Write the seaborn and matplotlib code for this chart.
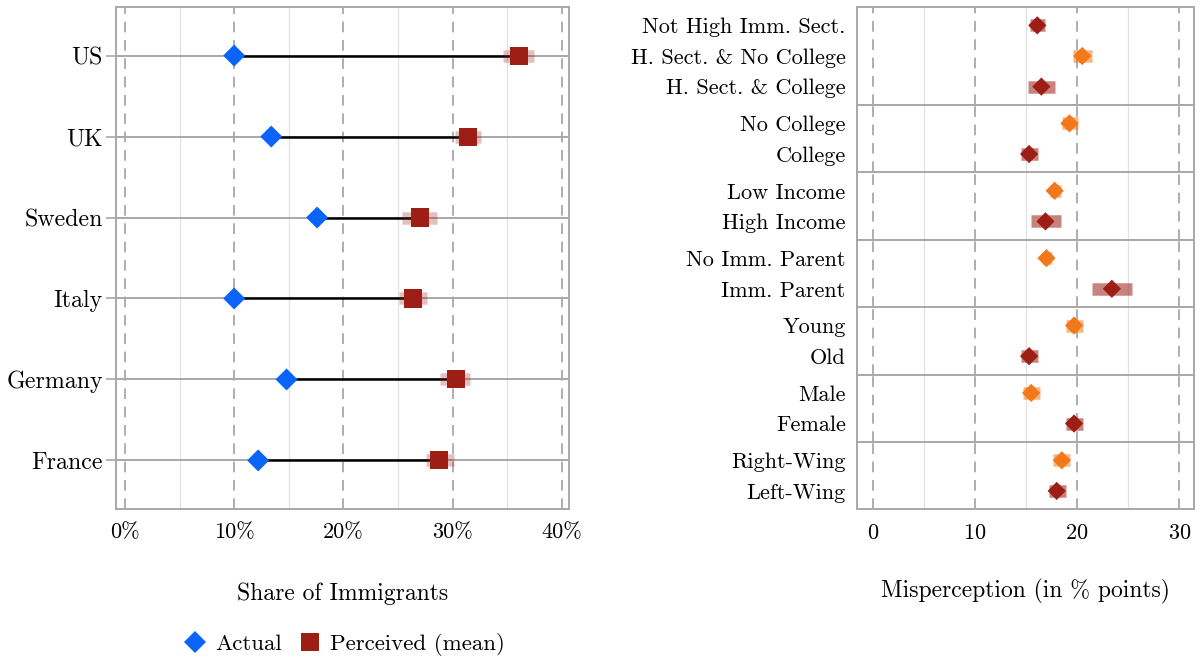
import numpy as np
import pandas as pd
import seaborn as sns
import matplotlib
matplotlib.use("Agg")
import matplotlib.pyplot as plt
from matplotlib.lines import Line2D
from matplotlib.ticker import FuncFormatter

# ---------------- data ----------------
countries = ["US", "UK", "Sweden", "Italy", "Germany", "France"]
actual = [10.0, 13.4, 17.6, 10.0, 14.8, 12.2]
perceived = [36.1, 31.4, 27.0, 26.4, 30.3, 28.8]
perc_lo = [34.6, 30.2, 25.4, 25.1, 28.9, 27.6]
perc_hi = [37.5, 32.6, 28.6, 27.7, 31.6, 30.1]

groups = [
    ["Not High Imm. Sect.", "H. Sect. & No College", "H. Sect. & College"],
    ["No College", "College"],
    ["Low Income", "High Income"],
    ["No Imm. Parent", "Imm. Parent"],
    ["Young", "Old"],
    ["Male", "Female"],
    ["Right-Wing", "Left-Wing"],
]
misp = [
    [16.1, 20.5, 16.5],
    [19.25, 15.3],
    [17.8, 16.9],
    [17.0, 23.4],
    [19.7, 15.3],
    [15.5, 19.7],
    [18.5, 18.0],
]
misp_lo = [
    [15.4, 19.6, 15.2],
    [18.5, 14.5],
    [17.3, 15.5],
    [16.6, 21.5],
    [18.95, 14.5],
    [14.7, 18.9],
    [17.6, 17.2],
]
misp_hi = [
    [16.9, 21.5, 17.8],
    [20.1, 16.2],
    [18.4, 18.4],
    [17.5, 25.4],
    [20.6, 16.2],
    [16.4, 20.6],
    [19.3, 18.9],
]
# colour class of each row: "hi" = orange, "lo" = dark red
kinds = [
    ["lo", "hi", "lo"],
    ["hi", "lo"],
    ["hi", "lo"],
    ["hi", "lo"],
    ["hi", "lo"],
    ["hi", "lo"],
    ["hi", "lo"],
]

# ---------------- style ----------------
sns.set_style("white")
plt.rcParams["font.family"] = ["cmr10", "DejaVu Serif"]
plt.rcParams["mathtext.fontset"] = "cm"
plt.rcParams["axes.unicode_minus"] = False
plt.rcParams["axes.formatter.use_mathtext"] = True
plt.rcParams["text.color"] = "black"
plt.rcParams["axes.labelcolor"] = "black"
plt.rcParams["xtick.labelcolor"] = "black"
plt.rcParams["ytick.labelcolor"] = "black"

BLUE = "#0A64FA"
RED = "#9C1E14"
ORANGE = "#F2781C"
GRID = "#A8A8A8"
MINOR = "#E2E2E2"
DASH = "#999999"
FS = 16
FS_T = 17

fig = plt.figure(figsize=(12.01, 6.62), dpi=100)

# ---------------- left panel ----------------
axL = fig.add_axes([116 / 1201, 1 - 509 / 662, (569 - 116) / 1201, (509 - 7) / 662])
df = pd.DataFrame({"country": countries, "actual": actual, "perceived": perceived,
                   "lo": perc_lo, "hi": perc_hi})
df["y"] = np.arange(len(df))

for v in [5, 15, 25, 35]:
    axL.axvline(v, color=MINOR, lw=0.9, zorder=0)
for v in [0, 10, 20, 30, 40]:
    axL.axvline(v, color=DASH, lw=1.1, dashes=(7, 5), zorder=0.5)
for yy in df["y"]:
    axL.axhline(yy, color=GRID, lw=1.4, zorder=0.6)

axL.hlines(df["y"], df["actual"], df["perceived"], color="black", lw=1.8, zorder=2)
axL.hlines(df["y"], df["lo"], df["hi"], color=RED, alpha=0.28, lw=9, zorder=3)
sns.scatterplot(data=df, x="perceived", y="y", marker="s", s=13 ** 2, color=RED,
                edgecolor="none", linewidth=0, ax=axL, zorder=4, legend=False)
sns.scatterplot(data=df, x="actual", y="y", marker="D", s=11.2 ** 2, color=BLUE,
                edgecolor="none", linewidth=0, ax=axL, zorder=5, legend=False)

axL.set_xlim(-0.82, 40.67)
axL.set_ylim(len(df) - 1 + 0.6, -0.6)
axL.set_yticks(df["y"])
axL.set_yticklabels(countries)
axL.set_xticks([0, 10, 20, 30, 40])
axL.xaxis.set_major_formatter(FuncFormatter(lambda v, p: f"{v:.0f}%"))
axL.tick_params(axis="y", length=7, color=GRID, width=1.2, labelsize=17.2, pad=2.5, left=True)
axL.tick_params(axis="x", length=0, labelsize=FS, pad=10)
axL.set_xlabel("Share of Immigrants", fontsize=FS_T, labelpad=29)
axL.set_ylabel("")
for s in axL.spines.values():
    s.set_color(GRID)
    s.set_linewidth(1.4)

handles = [
    Line2D([], [], marker="D", color=BLUE, ls="none", markersize=11.2, markeredgewidth=0),
    Line2D([], [], marker="s", color=RED, ls="none", markersize=13, markeredgewidth=0),
]
fig.legend(handles, ["Actual", "Perceived (mean)"], loc="center",
           bbox_to_anchor=(343 / 1201, 1 - 645 / 662), ncol=2, frameon=False,
           fontsize=16.5, handletextpad=0.3, columnspacing=0.6, handlelength=1.2)

# ---------------- right panel (faceted) ----------------
heights = [len(g) - 1 + 1.2 for g in groups]
gs = fig.add_gridspec(len(groups), 1, height_ratios=heights, hspace=0,
                      left=857.5 / 1201, right=1194.3 / 1201,
                      top=1 - 7 / 662, bottom=1 - 509.3 / 662)
colors = {"hi": ORANGE, "lo": RED}
for i, (labs, vals, los, his, kk) in enumerate(zip(groups, misp, misp_lo, misp_hi, kinds)):
    ax = fig.add_subplot(gs[i])
    d = pd.DataFrame({"label": labs, "val": vals, "lo": los, "hi": his, "kind": kk})
    d["y"] = np.arange(len(d))
    for v in [5, 15, 25]:
        ax.axvline(v, color=MINOR, lw=0.9, zorder=0)
    for v in [0, 10, 20, 30]:
        ax.axvline(v, color=DASH, lw=1.1, dashes=(7, 5), zorder=0.5)
    for _, r in d.iterrows():
        ax.hlines(r["y"], r["lo"], r["hi"], color=colors[r["kind"]], alpha=0.55, lw=9, zorder=2)
    sns.scatterplot(data=d, x="val", y="y", hue="kind", palette=colors, marker="D",
                    s=9.3 ** 2, edgecolor="none", linewidth=0, ax=ax, zorder=4, legend=False)
    ax.set_xlim(-1.5, 31.47)
    ax.set_ylim(len(d) - 1 + 0.6, -0.6)
    ax.set_yticks(d["y"])
    ax.set_yticklabels(labs)
    ax.set_ylabel("")
    ax.set_xticks([0, 10, 20, 30])
    ax.tick_params(axis="y", length=0, labelsize=FS, pad=8.5)
    ax.tick_params(axis="x", length=0, labelsize=FS, pad=10)
    for s in ax.spines.values():
        s.set_color(GRID)
        s.set_linewidth(1.4)
    if i < len(groups) - 1:
        ax.set_xticklabels([])
        ax.set_xlabel("")
    else:
        ax.set_xlabel("Misperception (in % points)", fontsize=FS_T, labelpad=26)

fig.savefig("out.png", dpi=100)
